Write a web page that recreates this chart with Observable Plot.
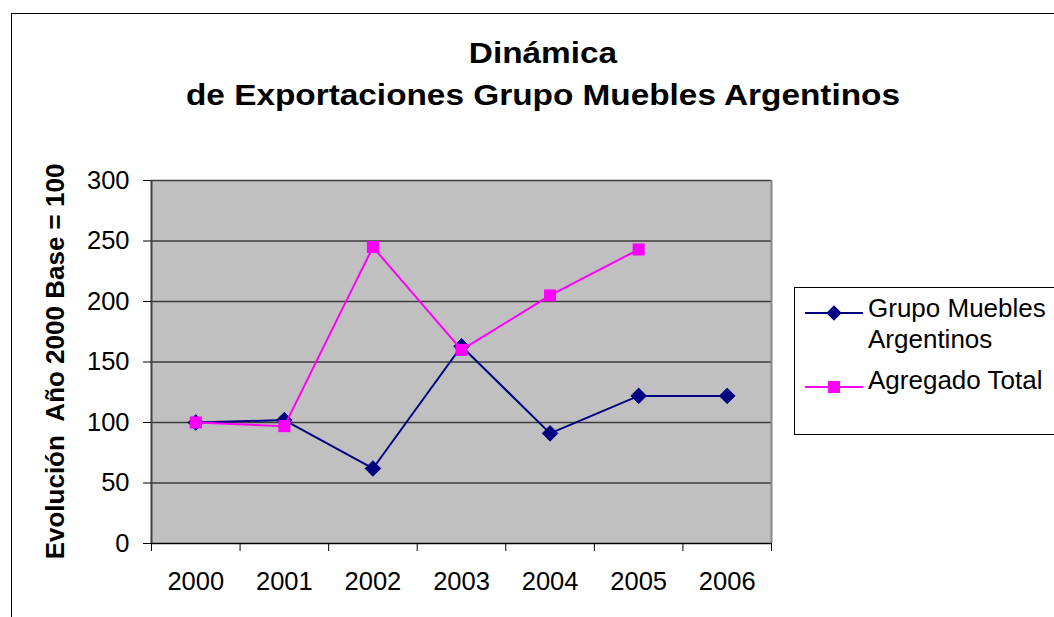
<!DOCTYPE html>
<html>
<head>
<meta charset="utf-8">
<script src="https://cdn.jsdelivr.net/npm/d3@7"></script>
<script src="https://cdn.jsdelivr.net/npm/@observablehq/plot@0.6"></script>
<style>
  html, body { margin: 0; padding: 0; background: #fff; }
  #wrap { position: relative; width: 1054px; height: 617px; overflow: hidden; font-family: "Liberation Sans", Arial, sans-serif; color: #000; }
  #frame { position: absolute; left: 11px; top: 13px; width: 1200px; height: 800px; border: 1.5px solid #000; }
  .title { position: absolute; left: 0; width: 1086px; text-align: center; font-weight: bold; font-size: 29px; line-height: 33px; transform: scaleX(1.15); transform-origin: 543px 0; white-space: nowrap; }
  #plot { position: absolute; left: 0; top: 0; }
  #ylab { position: absolute; left: 0; top: 0; }
  #legend { position: absolute; left: 794px; top: 287px; width: 400px; height: 146px; border: 1px solid #000; background: #fff; }
  #legend .item { position: absolute; left: 10px; font-size: 26px; line-height: 30px; white-space: nowrap; }
  #legend svg { position: absolute; left: 0; top: 0; }
</style>
</head>
<body>
<div id="wrap">
  <div id="frame"></div>
  <div class="title" style="top:37px">Dinámica</div>
  <div class="title" style="top:79px">de Exportaciones Grupo Muebles Argentinos</div>
  <div id="plot"></div>
  <svg id="ylab" width="120" height="617"></svg>
  <div id="legend"></div>
</div>
<script>
// ---- data ----
const years = [2000, 2001, 2002, 2003, 2004, 2005, 2006];
const grupoMuebles = [100, 102, 62, 163, 91, 122, 122];
const agregadoTotal = [100, 97, 245, 160, 205, 243, null];
const yTicks = [0, 50, 100, 150, 200, 250, 300];
const seriesNames = ["Grupo Muebles Argentinos", "Agregado Total"];
const titleLines = ["Dinámica", "de Exportaciones Grupo Muebles Argentinos"];
const yLabel = "Evolución  Año 2000 Base = 100";

const navy = "#000080";
const pink = "#FF00FF";

const boundaries = years.map(y => y - 0.5).concat([years[years.length - 1] + 0.5]);
const xDomain = [boundaries[0], boundaries[boundaries.length - 1]];

const chart = Plot.plot({
  width: 1054,
  height: 617,
  marginLeft: 151,
  marginRight: 283,
  marginTop: 180,
  marginBottom: 74,
  style: { fontSize: "25.5px", fontFamily: "'Liberation Sans', Arial, sans-serif", color: "#000", background: "transparent", overflow: "visible" },
  x: { domain: xDomain },
  y: { domain: [0, 300] },
  marks: [
    Plot.frame({ fill: "#C0C0C0", stroke: null }),
    Plot.ruleY(yTicks.filter(d => d > 0), { stroke: "#3c3c3c", strokeWidth: 1.4 }),
    Plot.ruleX([xDomain[0]], { stroke: "#404040", strokeWidth: 2 }),
    Plot.ruleX([xDomain[1]], { stroke: "#888888", strokeWidth: 2 }),
    Plot.ruleY([0], { stroke: "#000", strokeWidth: 1.5 }),
    Plot.axisY({ ticks: yTicks, tickSize: 8, tickPadding: 14, label: null, tickFormat: d => String(d) }),
    Plot.axisX({ ticks: boundaries, tickSize: 8, tickFormat: () => "", label: null }),
    Plot.axisX({ ticks: years, tickSize: 0, tickPadding: 28, label: null, tickFormat: d => String(d) }),
    Plot.line(years, { x: years, y: grupoMuebles, stroke: navy, strokeWidth: 2 }),
    Plot.dot(years, { x: years, y: grupoMuebles, symbol: "diamond2", r: 7, fill: navy, stroke: navy, strokeWidth: 1 }),
    Plot.line(years, { x: years, y: agregadoTotal, stroke: pink, strokeWidth: 2 }),
    Plot.dot(years, { x: years, y: agregadoTotal, symbol: "square", r: 6.8, fill: pink, stroke: null })
  ]
});
document.getElementById("plot").appendChild(chart);

// y axis label
const yl = d3.select("#ylab");
yl.append("text")
  .attr("transform", "translate(64,361.5) rotate(-90)")
  .attr("text-anchor", "middle")
  .attr("font-family", "'Liberation Sans', Arial, sans-serif")
  .attr("font-weight", "bold")
  .attr("font-size", "26px")
  .style("white-space", "pre")
  .text(yLabel);

// legend
const legend = d3.select("#legend");
const lsvg = legend.append("svg").attr("width", 80).attr("height", 146);
lsvg.append("line").attr("x1", 10).attr("x2", 68).attr("y1", 25).attr("y2", 25).attr("stroke", navy).attr("stroke-width", 2);
lsvg.append("path").attr("d", d3.symbol(d3.symbolDiamond2, Math.PI * 7 * 7)()).attr("transform", "translate(39,25)").attr("fill", navy);
lsvg.append("line").attr("x1", 10).attr("x2", 68).attr("y1", 99).attr("y2", 99).attr("stroke", pink).attr("stroke-width", 2);
lsvg.append("path").attr("d", d3.symbol(d3.symbolSquare, Math.PI * 6.8 * 6.8)()).attr("transform", "translate(39,99)").attr("fill", pink);

legend.append("div").attr("class", "item").style("left", "73px").style("top", "5px").text("Grupo Muebles");
legend.append("div").attr("class", "item").style("left", "73px").style("top", "36px").text("Argentinos");
legend.append("div").attr("class", "item").style("left", "73px").style("top", "77px").text(seriesNames[1]);
</script>
</body>
</html>
